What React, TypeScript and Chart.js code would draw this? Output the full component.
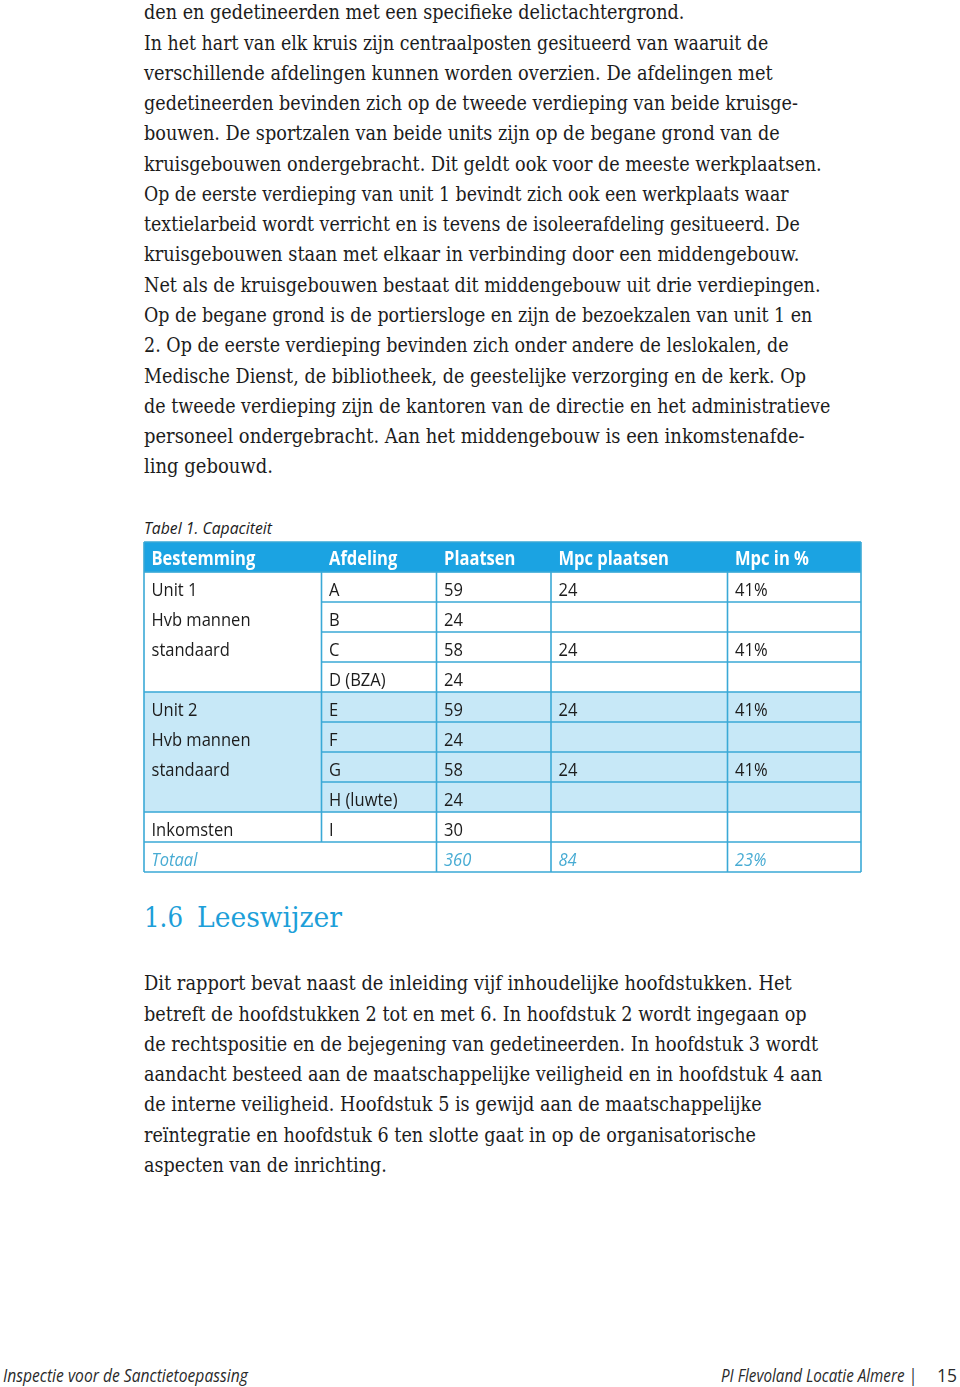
import React, { useEffect, useRef } from "react";
import { Chart, registerables } from "chart.js";

Chart.register(...registerables);

// ---------- Table data ----------
const headers = ["Bestemming", "Afdeling", "Plaatsen", "Mpc plaatsen", "Mpc in %"];
const bestemmingLines = ["Unit 1", "Hvb mannen", "standaard", "", "Unit 2", "Hvb mannen", "standaard", "", "Inkomsten"];
const afdelingen = ["A", "B", "C", "D (BZA)", "E", "F", "G", "H (luwte)", "I"];
const plaatsen = [59, 24, 58, 24, 59, 24, 58, 24, 30];
const mpcPlaatsen: (number | null)[] = [24, null, 24, null, 24, null, 24, null, null];
const mpcPercent: (number | null)[] = [41, null, 41, null, 41, null, 41, null, null];
const totaalLabel = "Totaal";
const totaalPlaatsen = 360;
const totaalMpc = 84;
const totaalPercent = 23;
const unitBlocks = [
  [0, 3],
  [4, 7],
];
const shadedBodyRows = [4, 5, 6, 7];

// ---------- Page text ----------
const para1Lines = [
  "den en gedetineerden met een specifieke delictachtergrond.",
  "In het hart van elk kruis zijn centraalposten gesitueerd van waaruit de",
  "verschillende afdelingen kunnen worden overzien. De afdelingen met",
  "gedetineerden bevinden zich op de tweede verdieping van beide kruisge-",
  "bouwen. De sportzalen van beide units zijn op de begane grond van de",
  "kruisgebouwen ondergebracht. Dit geldt ook voor de meeste werkplaatsen.",
  "Op de eerste verdieping van unit 1 bevindt zich ook een werkplaats waar",
  "textielarbeid wordt verricht en is tevens de isoleerafdeling gesitueerd. De",
  "kruisgebouwen staan met elkaar in verbinding door een middengebouw.",
  "Net als de kruisgebouwen bestaat dit middengebouw uit drie verdiepingen.",
  "Op de begane grond is de portiersloge en zijn de bezoekzalen van unit 1 en",
  "2. Op de eerste verdieping bevinden zich onder andere de leslokalen, de",
  "Medische Dienst, de bibliotheek, de geestelijke verzorging en de kerk. Op",
  "de tweede verdieping zijn de kantoren van de directie en het administratieve",
  "personeel ondergebracht. Aan het middengebouw is een inkomstenafde-",
  "ling gebouwd.",
];
const para1Widths = [541, 625, 629, 654, 636, 678, 645, 656, 656, 677, 669, 645, 662, 687, 661, 129];
const para2Lines = [
  "Dit rapport bevat naast de inleiding vijf inhoudelijke hoofdstukken. Het",
  "betreft de hoofdstukken 2 tot en met 6. In hoofdstuk 2 wordt ingegaan op",
  "de rechtspositie en de bejegening van gedetineerden. In hoofdstuk 3 wordt",
  "aandacht besteed aan de maatschappelijke veiligheid en in hoofdstuk 4 aan",
  "de interne veiligheid. Hoofdstuk 5 is gewijd aan de maatschappelijke",
  "reïntegratie en hoofdstuk 6 ten slotte gaat in op de organisatorische",
  "aspecten van de inrichting.",
];
const para2Widths = [648, 663, 675, 679, 618, 612, 243];
const captionText = "Tabel 1. Capaciteit";
const headingNumber = "1.6";
const headingText = "Leeswijzer";
const footerLeft = "Inspectie voor de Sanctietoepassing";
const footerRight = "PI Flevoland Locatie Almere |";
const pageNumber = "15";

// ---------- Styles ----------
const BODY_FONT = "'DejaVu Serif', serif";
const SANS = "'Open Sans', 'Noto Sans', sans-serif";
const TEXT_COLOR = "#1c1c1c";
const BLUE = "#1ba3e2";
const LIGHT_BLUE = "#c7e8f7";
const LINE_BLUE = "#3aa9d6";
const TOTAL_BLUE = "#47abd3";
const HEADING_BLUE = "#1d9fd9";

const TABLE_W = 717;
const colEdges = [0, 177.5, 292.5, 407, 583.5, TABLE_W];
const rowLabels = ["header", ...afdelingen, totaalLabel];
const TEXT_SCALE = 0.87;

let measureCtx: CanvasRenderingContext2D | null = null;
function fitScale(text: string, font: string, width: number) {
  if (!measureCtx) measureCtx = document.createElement("canvas").getContext("2d");
  if (!measureCtx) return 1;
  measureCtx.font = font;
  const w = measureCtx.measureText(text).width;
  return w > 0 ? width / w : 1;
}

type TxtProps = {
  text: string;
  x: number;
  y: number;
  width: number;
  size: number;
  family: string;
  italic?: boolean;
  color: string;
};
function Txt({ text, x, y, width, size, family, italic, color }: TxtProps) {
  const font = `${italic ? "italic " : ""}${size}px ${family}`;
  const s = fitScale(text, font, width);
  return (
    <text
      transform={`translate(${x} ${y}) scale(${s.toFixed(4)} 1)`}
      fontFamily={family}
      fontSize={size}
      fontStyle={italic ? "italic" : "normal"}
      fill={color}
    >
      {text}
    </text>
  );
}

function drawText(ctx: CanvasRenderingContext2D, text: string, x: number, y: number, font: string, color: string) {
  if (!text) return;
  ctx.save();
  ctx.translate(x, y);
  ctx.scale(TEXT_SCALE, 1);
  ctx.font = font;
  ctx.fillStyle = color;
  ctx.textBaseline = "alphabetic";
  ctx.textAlign = "left";
  ctx.fillText(text, 0, 0);
  ctx.restore();
}

const tablePlugin = {
  id: "tableGrid",
  afterDatasetsDraw(chart: any) {
    const { ctx, scales } = chart;
    const x = scales.x;
    const y = scales.y;
    const n = rowLabels.length;
    const band = (y.bottom - y.top) / n;
    const rowTop = (r: number) => (r < n ? y.getPixelForValue(r) - band / 2 : y.getPixelForValue(n - 1) + band / 2);
    const colX = (c: number) => x.getPixelForValue(colEdges[c]);

    ctx.save();
    ctx.strokeStyle = LINE_BLUE;
    ctx.lineWidth = 1.6;
    for (let r = 0; r <= n; r++) {
      const b = r - 1;
      let startCol = 0;
      for (const [s, e] of unitBlocks) {
        if (b > s && b <= e) startCol = 1;
      }
      const yy = rowTop(r);
      ctx.beginPath();
      ctx.moveTo(colX(startCol), yy);
      ctx.lineTo(colX(colEdges.length - 1), yy);
      ctx.stroke();
    }
    for (let c = 0; c < colEdges.length; c++) {
      let r0 = 1;
      let r1 = n;
      if (c === 0 || c === colEdges.length - 1) r0 = 0;
      if (c === 1) r1 = n - 1;
      ctx.beginPath();
      ctx.moveTo(colX(c), rowTop(r0));
      ctx.lineTo(colX(c), rowTop(r1));
      ctx.stroke();
    }
    ctx.restore();

    const pad = 7.5;
    const regular = `19px ${SANS}`;
    const bold = `bold 19px ${SANS}`;
    const italic = `italic 19px ${SANS}`;
    const base = (r: number) => y.getPixelForValue(r) + 8.5;

    headers.forEach((h, c) => drawText(ctx, h, colX(c) + pad, base(0) - 0.5, bold, "#ffffff"));
    afdelingen.forEach((a, b) => {
      const r = b + 1;
      drawText(ctx, bestemmingLines[b] || "", colX(0) + pad, base(r), regular, TEXT_COLOR);
      drawText(ctx, a, colX(1) + pad, base(r), regular, TEXT_COLOR);
      drawText(ctx, String(plaatsen[b]), colX(2) + pad, base(r), regular, TEXT_COLOR);
      if (mpcPlaatsen[b] != null) drawText(ctx, String(mpcPlaatsen[b]), colX(3) + pad, base(r), regular, TEXT_COLOR);
      if (mpcPercent[b] != null) drawText(ctx, `${mpcPercent[b]}%`, colX(4) + pad, base(r), regular, TEXT_COLOR);
    });
    const rt = n - 1;
    drawText(ctx, totaalLabel, colX(0) + pad, base(rt), italic, TOTAL_BLUE);
    drawText(ctx, String(totaalPlaatsen), colX(2) + pad, base(rt), italic, TOTAL_BLUE);
    drawText(ctx, String(totaalMpc), colX(3) + pad, base(rt), italic, TOTAL_BLUE);
    drawText(ctx, `${totaalPercent}%`, colX(4) + pad, base(rt), italic, TOTAL_BLUE);
  },
};

function CapacityTable() {
  const ref = useRef<HTMLCanvasElement>(null);
  useEffect(() => {
    if (!ref.current) return;
    const headerFill = rowLabels.map((_, r) => (r === 0 ? [0, TABLE_W] : null));
    const shadeFill = rowLabels.map((_, r) => (shadedBodyRows.includes(r - 1) ? [0, TABLE_W] : null));
    const chart = new Chart(ref.current, {
      type: "bar",
      data: {
        labels: rowLabels,
        datasets: [
          {
            label: "header",
            data: headerFill as any,
            backgroundColor: BLUE,
            borderWidth: 0,
            barPercentage: 1,
            categoryPercentage: 1,
            grouped: false,
            borderSkipped: false,
          } as any,
          {
            label: "unit2",
            data: shadeFill as any,
            backgroundColor: LIGHT_BLUE,
            borderWidth: 0,
            barPercentage: 1,
            categoryPercentage: 1,
            grouped: false,
            borderSkipped: false,
          } as any,
        ],
      },
      options: {
        indexAxis: "y",
        animation: false,
        responsive: false,
        maintainAspectRatio: false,
        layout: { padding: { left: 2, right: 3, top: 2, bottom: 2 } },
        plugins: { legend: { display: false }, tooltip: { enabled: false }, title: { display: false } },
        events: [],
        scales: {
          x: { type: "linear", min: 0, max: TABLE_W, display: false },
          y: { type: "category", display: false, offset: true },
        },
      },
      plugins: [tablePlugin],
    });
    return () => chart.destroy();
  }, []);
  return (
    <canvas
      ref={ref}
      width={722}
      height={334}
      style={{ position: "absolute", left: 142, top: 540, width: 722, height: 334 }}
    />
  );
}

const LH = 30.27;

export default function App() {
  return (
    <div style={{ position: "absolute", left: 0, top: 0, width: 960, height: 1387, background: "#ffffff", overflow: "hidden" }}>
      <svg width={960} height={1387} style={{ position: "absolute", left: 0, top: 0 }}>
        {para1Lines.map((t, i) => (
          <Txt key={"p1" + i} text={t} x={144} y={19.3 + i * LH} width={para1Widths[i]} size={21} family={BODY_FONT} color={TEXT_COLOR} />
        ))}
        <Txt text={captionText} x={144} y={534} width={128} size={17} family={SANS} italic color={TEXT_COLOR} />
        <Txt text={headingNumber} x={144} y={927} width={39} size={27} family={BODY_FONT} color={HEADING_BLUE} />
        <Txt text={headingText} x={197} y={927} width={145} size={27} family={BODY_FONT} color={HEADING_BLUE} />
        {para2Lines.map((t, i) => (
          <Txt key={"p2" + i} text={t} x={144} y={990.3 + i * LH} width={para2Widths[i]} size={21} family={BODY_FONT} color={TEXT_COLOR} />
        ))}
        <Txt text={footerLeft} x={3} y={1382} width={245} size={18} family={SANS} italic color="#2a2a2a" />
        <Txt text={footerRight} x={721} y={1382} width={196} size={18} family={SANS} italic color="#2a2a2a" />
        <Txt text={pageNumber} x={937} y={1382} width={20} size={18} family={SANS} color="#2a2a2a" />
      </svg>
      <CapacityTable />
    </div>
  );
}
